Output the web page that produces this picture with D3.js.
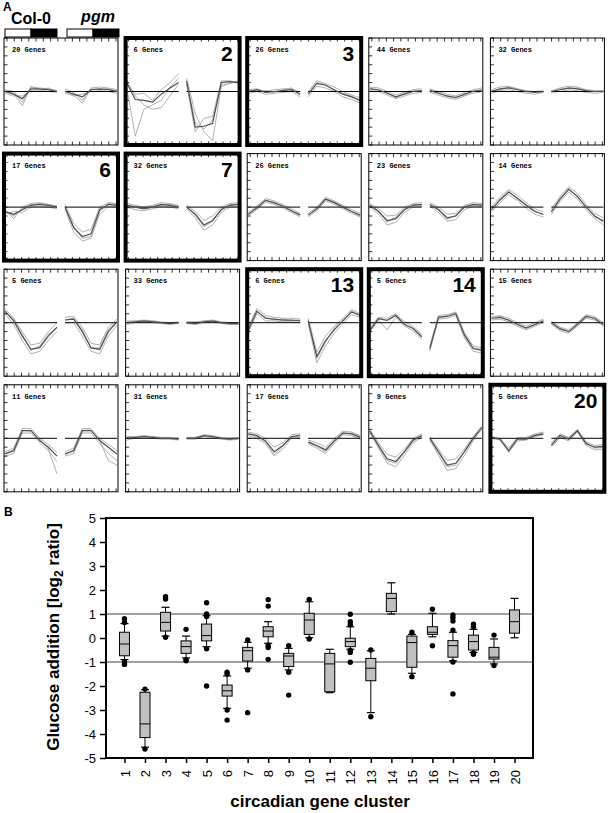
<!DOCTYPE html>
<html>
<head>
<meta charset="utf-8">
<script src="https://cdn.jsdelivr.net/npm/d3@7"></script>
<style>
body { margin: 0; background: #fff; }
</style>
</head>
<body>
<div id="chart"></div>
<script>
// ---- panel A data: 20 circadian clusters, 7 time points per genotype (Col-0 | pgm)
var geneCounts = [20, 6, 26, 44, 32, 17, 32, 26, 23, 14, 5, 33, 6, 5, 15, 11, 31, 17, 9, 5];
var highlighted = [2, 3, 6, 7, 13, 14, 20];

var meanProfiles = [
  [0, -0.3, -0.8, 0.3, 0.3, 0.2, 0,  0, -0.3, -0.6, 0.2, 0.3, 0.2, 0],
  [1.0, -0.9, -1.0, -1.2, -0.3, 0.4, 1.0,  1.2, -4.0, -3.9, -3.6, 1.0, 1.1, 1.0],
  [0, 0.2, -0.1, 0, 0.1, 0.2, -0.3,  -0.3, 0.9, 0.7, 0.2, -0.3, -0.6, -1.0],
  [0.3, 0.2, -0.2, -0.6, -0.3, 0, 0.1,  0.1, -0.2, -0.5, -0.7, -0.3, 0, 0.2],
  [0, 0.3, 0.4, 0.2, 0, -0.1, 0,  0, 0.2, 0.4, 0.3, 0.1, 0, 0],
  [-0.5, -0.8, -0.3, 0.2, 0.3, 0.2, 0,  0, -2.3, -3.3, -3.0, -0.3, 0.3, 0.2],
  [0.2, 0, -0.2, 0, 0.3, 0.2, 0,  0, -0.8, -2.0, -1.5, -0.3, 0.2, 0.3],
  [-0.8, -0.1, 0.75, 0.5, 0.1, -0.4, -0.9,  -0.9, -0.2, 0.9, 0.5, 0, -0.5, -0.9],
  [0.2, -0.5, -1.5, -1.3, -0.3, 0.2, 0.3,  0.3, -0.3, -1.2, -1.0, 0, 0.3, 0.2],
  [-0.3, 0.8, 1.7, 1.0, 0.2, -0.5, -0.8,  -0.5, 0.9, 2.0, 1.2, 0, -1.0, -1.6],
  [1.3, 0.2, -1.5, -3.0, -2.8, -1.5, -0.5,  0.3, 0.4, -1.0, -2.8, -3.0, -1.0, 0.1],
  [0, 0.1, 0.2, 0.1, 0, -0.1, 0,  0, -0.1, 0.1, 0.2, 0, -0.1, -0.1],
  [-0.8, 1.3, 0.5, 0.4, 0.3, 0.3, 0.2,  0.2, -3.8, -2.0, -0.8, 0.2, 1.2, 0.8],
  [-0.85, 0.45, 0.25, 0.8, -0.2, -0.65, -1.6,  -2.9, 0.6, 0.7, 1.0, -1.4, -2.9, -3.1],
  [0.5, 0.6, 0.3, -0.2, -0.6, -0.2, 0.2,  0, -0.7, -1.0, -0.2, 0.7, 0.5, -0.2],
  [-1.75, -1.4, 0.85, 0.85, -0.25, -1.0, -2.0,  -1.75, -1.4, 0.85, 0.85, -0.25, -1.0, -1.75],
  [0, 0.1, 0.2, 0.1, 0, 0, -0.1,  0, 0, 0.3, 0.2, 0, -0.1, 0],
  [0.5, 0.3, -0.3, -1.5, -0.8, 0.2, 0.3,  -0.4, -0.8, -1.3, -0.3, 0.6, 0.5, 0.1],
  [0.8, -0.8, -2.3, -2.6, -1.5, -0.2, 0.3,  0, -1.5, -3.0, -2.8, -1.5, 0, 1.2],
  [0.1, -0.1, -1.4, -0.1, -0.1, 0.3, 0.5,  -0.75, 0.3, -0.1, 0.85, -0.6, -1.0, -0.9]
];

// a few single-gene profiles per cluster (light grey lines)
var geneLines = [
  [[0.2, 0, -1.2, 0.5, 0.4, 0.3, 0.1,  0.3, -0.1, -1.0, 0.4, 0.5, 0.4, 0.2],
   [-0.2, -0.5, -0.5, 0.1, 0.2, 0, -0.1,  -0.2, -0.5, -0.3, 0, 0.1, 0, -0.2],
   [0.1, -0.2, -1.6, 0.6, 0.1, 0.4, 0,  0.1, -0.4, -1.3, 0.3, 0.2, 0.3, 0.1]],
  [[0.5, -5.0, -2.0, -1.5, -1.0, 0.5, 1.5,  1.5, -2.5, -4.5, -5.5, 0.5, 1.0, 1.2],
   [1.3, -0.5, -1.5, -2.0, -1.8, -0.5, 0.8,  0.8, -4.5, -3.0, -2.8, 1.2, 1.2, 0.9],
   [0.8, -0.3, -0.2, -1.0, 0.2, 1.0, 2.0,  1.0, -3.5, -4.2, -3.2, 0.7, 0.9, 1.1]],
  [[0.2, 0.3, 0, 0.2, 0.3, 0.3, -0.1,  0, 1.2, 0.9, 0.5, 0, -0.4, -0.7],
   [-0.2, 0, -0.3, -0.2, -0.1, 0, -0.6,  -0.6, 0.6, 0.4, 0, -0.6, -0.9, -1.3],
   [0.1, 0.1, 0.1, -0.1, 0.2, 0.4, -0.4,  -0.2, 1.0, 0.8, 0.1, -0.2, -0.5, -1.1]],
  [[0.5, 0.4, 0, -0.4, -0.1, 0.2, 0.3,  0.3, 0, -0.3, -0.5, -0.1, 0.2, 0.4],
   [0.1, 0, -0.4, -0.8, -0.5, -0.2, -0.1,  -0.1, -0.4, -0.7, -0.9, -0.5, -0.2, 0],
   [0.4, 0.1, -0.1, -0.7, -0.2, 0.1, 0,  0.2, -0.1, -0.6, -0.6, -0.4, 0.1, 0.1]],
  [[0.2, 0.5, 0.6, 0.3, 0.1, 0, 0.1,  0.1, 0.4, 0.6, 0.5, 0.2, 0.1, 0.1],
   [-0.2, 0.1, 0.2, 0, -0.2, -0.3, -0.1,  -0.1, 0, 0.2, 0.1, -0.1, -0.2, -0.1],
   [0.1, 0.2, 0.5, 0.3, 0, 0, -0.1,  0, 0.3, 0.3, 0.4, 0, 0, 0.1]],
  [[-0.3, -1.3, 0, 0.4, 0.5, 0.3, 0.1,  0.3, -1.8, -2.8, -2.5, 0, 0.5, 0.4],
   [-0.8, -0.5, -0.6, 0, 0.1, 0, -0.2,  -0.2, -2.8, -3.8, -3.5, -0.8, 0.1, 0],
   [-0.4, -1.0, -0.2, 0.3, 0.4, 0.3, 0.1,  0.1, -2.2, -3.5, -3.3, -0.5, 0.4, 0.3]],
  [[0.4, 0.2, 0, 0.2, 0.5, 0.4, 0.2,  0.2, -0.5, -1.5, -1.0, 0, 0.4, 0.5],
   [0, -0.3, -0.4, -0.2, 0.1, 0, -0.2,  -0.2, -1.2, -2.6, -2.0, -0.6, 0, 0.1],
   [0.2, 0.1, -0.1, 0.1, 0.2, 0.3, 0.1,  0.1, -0.9, -2.2, -1.6, -0.2, 0.3, 0.3]],
  [[-0.6, 0.1, 0.95, 0.7, 0.3, -0.2, -0.7,  -0.7, 0, 1.1, 0.7, 0.2, -0.3, -0.7],
   [-1.0, -0.3, 0.55, 0.3, -0.1, -0.6, -1.1,  -1.1, -0.4, 0.7, 0.3, -0.2, -0.7, -1.1],
   [-0.8, 0, 0.8, 0.4, 0.2, -0.5, -0.8,  -0.9, -0.1, 0.9, 0.6, 0.1, -0.5, -1.0]],
  [[0.4, -0.2, -1.0, -0.9, 0, 0.4, 0.5,  0.5, 0, -0.8, -0.7, 0.2, 0.5, 0.4],
   [0, -0.8, -2.0, -1.7, -0.6, 0, 0.1,  0.1, -0.6, -1.6, -1.4, -0.3, 0.1, 0],
   [0.2, -0.4, -1.7, -1.1, -0.2, 0.3, 0.2,  0.3, -0.2, -1.4, -0.9, 0.1, 0.2, 0.3]],
  [[0, 1.1, 2.0, 1.3, 0.5, -0.2, -0.5,  -0.2, 1.2, 2.3, 1.5, 0.3, -0.7, -1.2],
   [-0.6, 0.5, 1.4, 0.7, -0.1, -0.8, -1.1,  -0.8, 0.6, 1.7, 0.9, -0.3, -1.3, -2.0],
   [-0.3, 0.9, 1.8, 0.9, 0.3, -0.4, -0.9,  -0.5, 1.0, 2.1, 1.1, 0.1, -1.1, -1.5]],
  [[1.6, 0.5, -1.0, -2.5, -2.3, -1.0, 0,  0.6, 0.7, -0.5, -2.3, -2.5, -0.5, 0.4],
   [1.0, -0.2, -2.0, -3.5, -3.2, -2.0, -1.0,  0, 0, -1.5, -3.2, -3.5, -1.5, -0.3],
   [1.2, 0.4, -1.3, -3.1, -2.6, -1.3, -0.6,  0.3, 0.5, -0.8, -2.9, -2.8, -0.8, 0.2]],
  [[0.2, 0.2, 0.3, 0.2, 0.1, 0, 0.1,  0.1, 0.1, 0.2, 0.3, 0.1, 0, 0],
   [-0.2, 0, 0.1, 0, -0.1, -0.2, -0.1,  -0.1, -0.2, 0, 0.1, -0.1, -0.2, -0.2],
   [0, 0.2, 0.1, 0.2, 0, -0.1, 0,  0, 0, 0.2, 0.1, 0, -0.1, -0.1]],
  [[-0.5, 1.6, 0.8, 0.6, 0.5, 0.5, 0.4,  0.5, -3.3, -1.5, -0.4, 0.5, 1.5, 1.0],
   [-1.1, 1.0, 0.2, 0.2, 0.1, 0.1, 0,  -0.1, -4.5, -2.6, -1.2, -0.1, 0.9, 0.6],
   [-0.9, 1.2, 0.6, 0.3, 0.4, 0.2, 0.3,  0.3, -4.0, -2.2, -0.6, 0.3, 1.3, 0.9]],
  [[-0.6, 0.6, 0.5, 1.0, 0.1, -0.4, -1.3,  -2.6, 0.8, 0.9, 1.2, -1.1, -2.6, -2.8],
   [-1.1, 0.3, -0.8, 0.6, -0.4, -0.9, -1.9,  -3.2, 0.4, 0.5, 0.8, -1.7, -3.2, -3.4],
   [-0.8, 0.5, 0.3, 0.9, -0.2, -0.6, -1.5,  -2.9, 0.6, 0.8, 1.1, -1.3, -2.8, -3.0]],
  [[0.7, 0.8, 0.5, 0, -0.4, 0, 0.4,  0.2, -0.5, -0.8, 0, 0.9, 0.7, 0],
   [0.3, 0.4, 0.1, -0.4, -0.8, -0.4, 0,  -0.2, -0.9, -1.2, -0.4, 0.5, 0.3, -0.4],
   [0.5, 0.7, 0.2, -0.1, -0.6, -0.3, 0.2,  0, -0.6, -1.0, -0.1, 0.8, 0.4, -0.3]],
  [[-1.5, -1.1, 1.1, 1.1, 0, -0.7, -1.6,  -1.5, -1.1, 1.1, 1.1, 0, -0.7, -1.4],
   [-2.0, -1.7, 0.6, 0.6, -0.5, -1.4, -2.6,  -2.0, -1.7, 0.6, 0.6, -0.6, -1.7, -2.5],
   [-1.7, -1.3, 0.9, 0.8, -0.1, -1.2, -4.0,  -1.8, -1.3, 0.9, 0.9, -0.2, -2.5, -3.0]],
  [[0.2, 0.2, 0.3, 0.2, 0.1, 0.1, 0,  0.1, 0.1, 0.4, 0.3, 0.1, 0, 0.1],
   [-0.2, 0, 0.1, 0, -0.1, -0.1, -0.2,  -0.1, -0.1, 0.2, 0.1, -0.1, -0.2, -0.1],
   [0.1, 0.1, 0.2, 0.2, 0, 0, -0.1,  0, 0.1, 0.3, 0.1, 0, -0.1, 0.1]],
  [[0.7, 0.5, 0, -1.0, -0.5, 0.4, 0.5,  -0.2, -0.5, -1.0, 0, 0.8, 0.7, 0.3],
   [0.3, 0, -0.6, -2.0, -1.2, 0, 0.1,  -0.6, -1.1, -1.7, -0.6, 0.4, 0.3, -0.1],
   [0.5, 0.2, -0.4, -1.8, -0.9, 0.1, 0.4,  -0.5, -0.9, -1.5, -0.4, 0.5, 0.6, 0.2]],
  [[1.0, -0.5, -1.8, -2.1, -1.2, 0, 0.5,  0.2, -1.2, -2.5, -2.3, -1.2, 0.2, 1.4],
   [0.6, -1.1, -2.8, -3.2, -1.9, -0.5, 0.1,  -0.2, -1.9, -3.6, -3.4, -1.9, -0.3, 1.0],
   [0.8, -0.9, -2.5, -2.8, -1.6, -0.3, 0.2,  0, -1.6, -3.2, -3.0, -1.5, -0.1, 1.2]],
  [[0.2, 0, -1.1, 0.1, 0.1, 0.5, 0.7,  -0.5, 0.5, 0.1, 1.0, -0.4, -0.8, -0.7],
   [0, -0.2, -1.6, -0.3, -0.2, 0.2, 0.4,  -1.0, 0.1, -0.3, 0.7, -0.8, -1.3, -1.2],
   [0.1, -0.1, -1.3, 0, 0, 0.4, 0.6,  -0.8, 0.4, 0, 0.9, -0.5, -1.1, -1.0]]
];

// ---- panel B data: glucose response per cluster (box plots)
var clusters = [1, 2, 3, 4, 5, 6, 7, 8, 9, 10, 11, 12, 13, 14, 15, 16, 17, 18, 19, 20];
var boxQ3 = [0.24, -2.26, 1.07, -0.12, 0.58, -1.96, -0.39, 0.47, -0.64, 1.03, -0.64, -0.01, -0.85, 1.86, 0.08, 0.47, -0.11, 0.12, -0.39, 1.17];
var boxMed = [-0.25, -3.58, 0.65, -0.36, 0.1, -2.2, -0.53, 0.29, -0.75, 0.75, -1.08, -0.15, -1.26, 1.65, -0.19, 0.24, -0.32, -0.15, -0.8, 0.68];
var boxQ1 = [-0.74, -4.15, 0.29, -0.64, -0.12, -2.42, -0.96, 0.05, -1.19, 0.15, -2.24, -0.36, -1.78, 1.1, -1.22, 0.15, -0.8, -0.5, -0.88, 0.2];
var whiskerHi = [0.6, -2.15, 1.28, 0.08, 0.93, -1.58, -0.18, 0.68, -0.43, 1.51, -0.47, 0.47, -0.53, 2.3, 0.15, 1.03, 0.24, 0.36, -0.04, 1.65];
var whiskerLo = [-0.9, -4.55, 0.08, -0.83, -0.36, -2.93, -1.26, -0.22, -1.33, 0.01, -2.28, -0.47, -3.11, 1.0, -1.47, 0.05, -0.95, -0.6, -1.08, 0.01];
var outliers = [
  [0.8, 0.65, -1.0, -1.1], [-2.13, -4.63], [1.72, 1.62, 0.03], [0.36, -0.9, -0.95],
  [1.47, 1.0, 0.9, -0.45, -2.0], [-1.43, -1.5, -3.0, -3.42], [-0.08, -1.33, -3.11],
  [1.6, 1.33, -0.3, -0.4, -0.89], [-0.32, -1.43, -2.38], [1.61, -0.04], [],
  [0.99, 0.68, 0.55, -0.52, -0.6, -1.01], [-0.5, -3.28], [], [0.24, -1.61],
  [1.2, -0.32], [0.96, 0.85, 0.71, 0.33, -1.0, -2.33], [0.57, 0.47, -0.62, -0.68],
  [0.12, -1.15], []
];
var yTicksB = [-5, -4, -3, -2, -1, 0, 1, 2, 3, 4, 5];

var width = 610, height = 813;

var svg = d3.select("#chart").append("svg")
    .attr("width", width)
    .attr("height", height)
    .style("font-family", "Arial, 'Liberation Sans', sans-serif");

// ================= A =================
svg.append("text").attr("x", 3).attr("y", 11)
    .style("font-size", "12px").style("font-weight", "bold").text("A");

svg.append("text").attr("x", 31).attr("y", 24).attr("text-anchor", "middle")
    .style("font-size", "16px").style("font-weight", "bold").text("Col-0");
svg.append("text").attr("x", 98).attr("y", 22).attr("text-anchor", "middle")
    .style("font-size", "16px").style("font-weight", "bold").style("font-style", "italic").text("pgm");

// light / dark bars
[[5, 57], [67, 119]].forEach(function(b) {
    var mid = (b[0] + b[1]) / 2;
    svg.append("rect").attr("x", b[0]).attr("y", 29).attr("width", mid - b[0]).attr("height", 8)
        .attr("fill", "#fff").attr("stroke", "#000").attr("stroke-width", 1);
    svg.append("rect").attr("x", mid).attr("y", 29).attr("width", b[1] - mid).attr("height", 8)
        .attr("fill", "#000").attr("stroke", "#000").attr("stroke-width", 1);
});

var panelW = 114, panelH = 107, colStep = 121.6, rowStep = 115.6;
var py = d3.scaleLinear().domain([-6, 6]).range([panelH, 0]);
var pxL = d3.scaleLinear().domain([0, 6]).range([1, panelW * 0.465]);
var pxR = d3.scaleLinear().domain([0, 6]).range([panelW * 0.535, panelW - 1]);
var tickX = d3.scaleLinear().domain([0, 15]).range([3, panelW - 2]);

var lineL = d3.line().x(function(d, i) { return pxL(i); }).y(function(d) { return py(d); });
var lineR = d3.line().x(function(d, i) { return pxR(i); }).y(function(d) { return py(d); });

geneCounts.forEach(function(n, i) {
    var col = i % 5, row = Math.floor(i / 5);
    var g = svg.append("g")
        .attr("transform", "translate(" + (4 + col * colStep) + "," + (38 + row * rowStep) + ")");
    var hl = highlighted.indexOf(i + 1) >= 0;

    g.append("clipPath").attr("id", "clip" + i)
        .append("rect").attr("width", panelW).attr("height", panelH);
    var lines = g.append("g").attr("clip-path", "url(#clip" + i + ")");

    geneLines[i].forEach(function(p) {
        lines.append("path").attr("d", lineL(p.slice(0, 7)))
            .attr("fill", "none").attr("stroke", "#a8a8a8").attr("stroke-width", 0.9);
        lines.append("path").attr("d", lineR(p.slice(7)))
            .attr("fill", "none").attr("stroke", "#a8a8a8").attr("stroke-width", 0.9);
    });
    // zero lines
    lines.append("line").attr("x1", pxL(0)).attr("x2", pxL(6)).attr("y1", py(0)).attr("y2", py(0))
        .attr("stroke", "#000").attr("stroke-width", 1);
    lines.append("line").attr("x1", pxR(0)).attr("x2", pxR(6)).attr("y1", py(0)).attr("y2", py(0))
        .attr("stroke", "#000").attr("stroke-width", 1);
    lines.append("path").attr("d", lineL(meanProfiles[i].slice(0, 7)))
        .attr("fill", "none").attr("stroke", "#505050").attr("stroke-width", 1.2);
    lines.append("path").attr("d", lineR(meanProfiles[i].slice(7)))
        .attr("fill", "none").attr("stroke", "#505050").attr("stroke-width", 1.2);

    // inward ticks
    d3.range(16).forEach(function(k) {
        g.append("line").attr("x1", tickX(k)).attr("x2", tickX(k)).attr("y1", 0).attr("y2", 3.5)
            .attr("stroke", "#000").attr("stroke-width", 0.8);
        g.append("line").attr("x1", tickX(k)).attr("x2", tickX(k)).attr("y1", panelH).attr("y2", panelH - 3.5)
            .attr("stroke", "#000").attr("stroke-width", 0.8);
    });
    py.ticks(12).forEach(function(t) {
        g.append("line").attr("x1", 0).attr("x2", 3.5).attr("y1", py(t)).attr("y2", py(t))
            .attr("stroke", "#000").attr("stroke-width", 0.8);
    });

    g.append("rect").attr("width", panelW).attr("height", panelH)
        .attr("fill", "none").attr("stroke", "#000").attr("stroke-width", hl ? 4 : 1);

    g.append("text").attr("x", 8).attr("y", 14)
        .style("font-family", "'Liberation Mono', 'DejaVu Sans Mono', monospace")
        .style("font-size", "7px").style("font-weight", "bold")
        .text(n + " Genes");

    if (hl) {
        g.append("text").attr("x", panelW - 7).attr("y", 23).attr("text-anchor", "end")
            .style("font-size", "21px").style("font-weight", "bold").text(i + 1);
    }
});

// ================= B =================
svg.append("text").attr("x", 4).attr("y", 516)
    .style("font-size", "12px").style("font-weight", "bold").text("B");

var plotL = 106, plotR = 533, plotT = 518, plotB = 758;
var by = d3.scaleLinear().domain([-5, 5]).range([plotB, plotT]);
var bx = d3.scalePoint().domain(clusters).range([plotL, plotR]).padding(0.9);

var yAxis = svg.append("g").attr("transform", "translate(" + plotL + ",0)")
    .call(d3.axisLeft(by).tickValues(yTicksB).tickSize(6).tickPadding(4)
        .tickFormat(function(d) { return String(d); }));
yAxis.select(".domain").remove();
yAxis.selectAll("line").attr("stroke-width", 1.5);
yAxis.selectAll("text").style("font-size", "13px").attr("fill", "#000");

var xAxis = svg.append("g").attr("transform", "translate(0," + plotB + ")")
    .call(d3.axisBottom(bx).tickSize(5));
xAxis.select(".domain").remove();
xAxis.selectAll("line").attr("stroke-width", 1.5);
xAxis.selectAll("text")
    .attr("transform", "rotate(-90)")
    .attr("text-anchor", "end")
    .attr("x", -12).attr("y", 0).attr("dy", "0.36em")
    .style("font-size", "13px").attr("fill", "#000");

// reference lines at +/- 1
[1, -1].forEach(function(v) {
    svg.append("line").attr("x1", plotL).attr("x2", plotR).attr("y1", by(v)).attr("y2", by(v))
        .attr("stroke", "#444").attr("stroke-width", 1);
});

var boxW = 10, capW = 8;
var boxes = svg.append("g");
clusters.forEach(function(c, i) {
    var cx = bx(c);
    var b = boxes.append("g");
    b.append("line").attr("x1", cx).attr("x2", cx).attr("y1", by(whiskerHi[i])).attr("y2", by(whiskerLo[i]))
        .attr("stroke", "#000").attr("stroke-width", 1);
    b.append("line").attr("x1", cx - capW / 2).attr("x2", cx + capW / 2)
        .attr("y1", by(whiskerHi[i])).attr("y2", by(whiskerHi[i])).attr("stroke", "#000").attr("stroke-width", 1.2);
    b.append("line").attr("x1", cx - capW / 2).attr("x2", cx + capW / 2)
        .attr("y1", by(whiskerLo[i])).attr("y2", by(whiskerLo[i])).attr("stroke", "#000").attr("stroke-width", 1.2);
    b.append("rect").attr("x", cx - boxW / 2).attr("y", by(boxQ3[i]))
        .attr("width", boxW).attr("height", by(boxQ1[i]) - by(boxQ3[i]))
        .attr("fill", "#c0c0c0").attr("stroke", "#000").attr("stroke-width", 1);
    b.append("line").attr("x1", cx - boxW / 2).attr("x2", cx + boxW / 2)
        .attr("y1", by(boxMed[i])).attr("y2", by(boxMed[i])).attr("stroke", "#000").attr("stroke-width", 1);
    outliers[i].forEach(function(o) {
        b.append("circle").attr("cx", cx).attr("cy", by(o)).attr("r", 2.7).attr("fill", "#000");
    });
});

svg.append("rect").attr("x", plotL).attr("y", plotT).attr("width", plotR - plotL).attr("height", plotB - plotT)
    .attr("fill", "none").attr("stroke", "#000").attr("stroke-width", 2);

// axis titles
var yt = svg.append("text")
    .attr("transform", "translate(59,637) rotate(-90)")
    .attr("text-anchor", "middle")
    .style("font-size", "17px").style("font-weight", "bold");
yt.append("tspan").text("Glucose addition [log");
yt.append("tspan").attr("dy", "4").style("font-size", "12px").text("2");
yt.append("tspan").attr("dy", "-4").text(" ratio]");

svg.append("text").attr("x", 320).attr("y", 807).attr("text-anchor", "middle")
    .style("font-size", "17px").style("font-weight", "bold").text("circadian gene cluster");
</script>
</body>
</html>
